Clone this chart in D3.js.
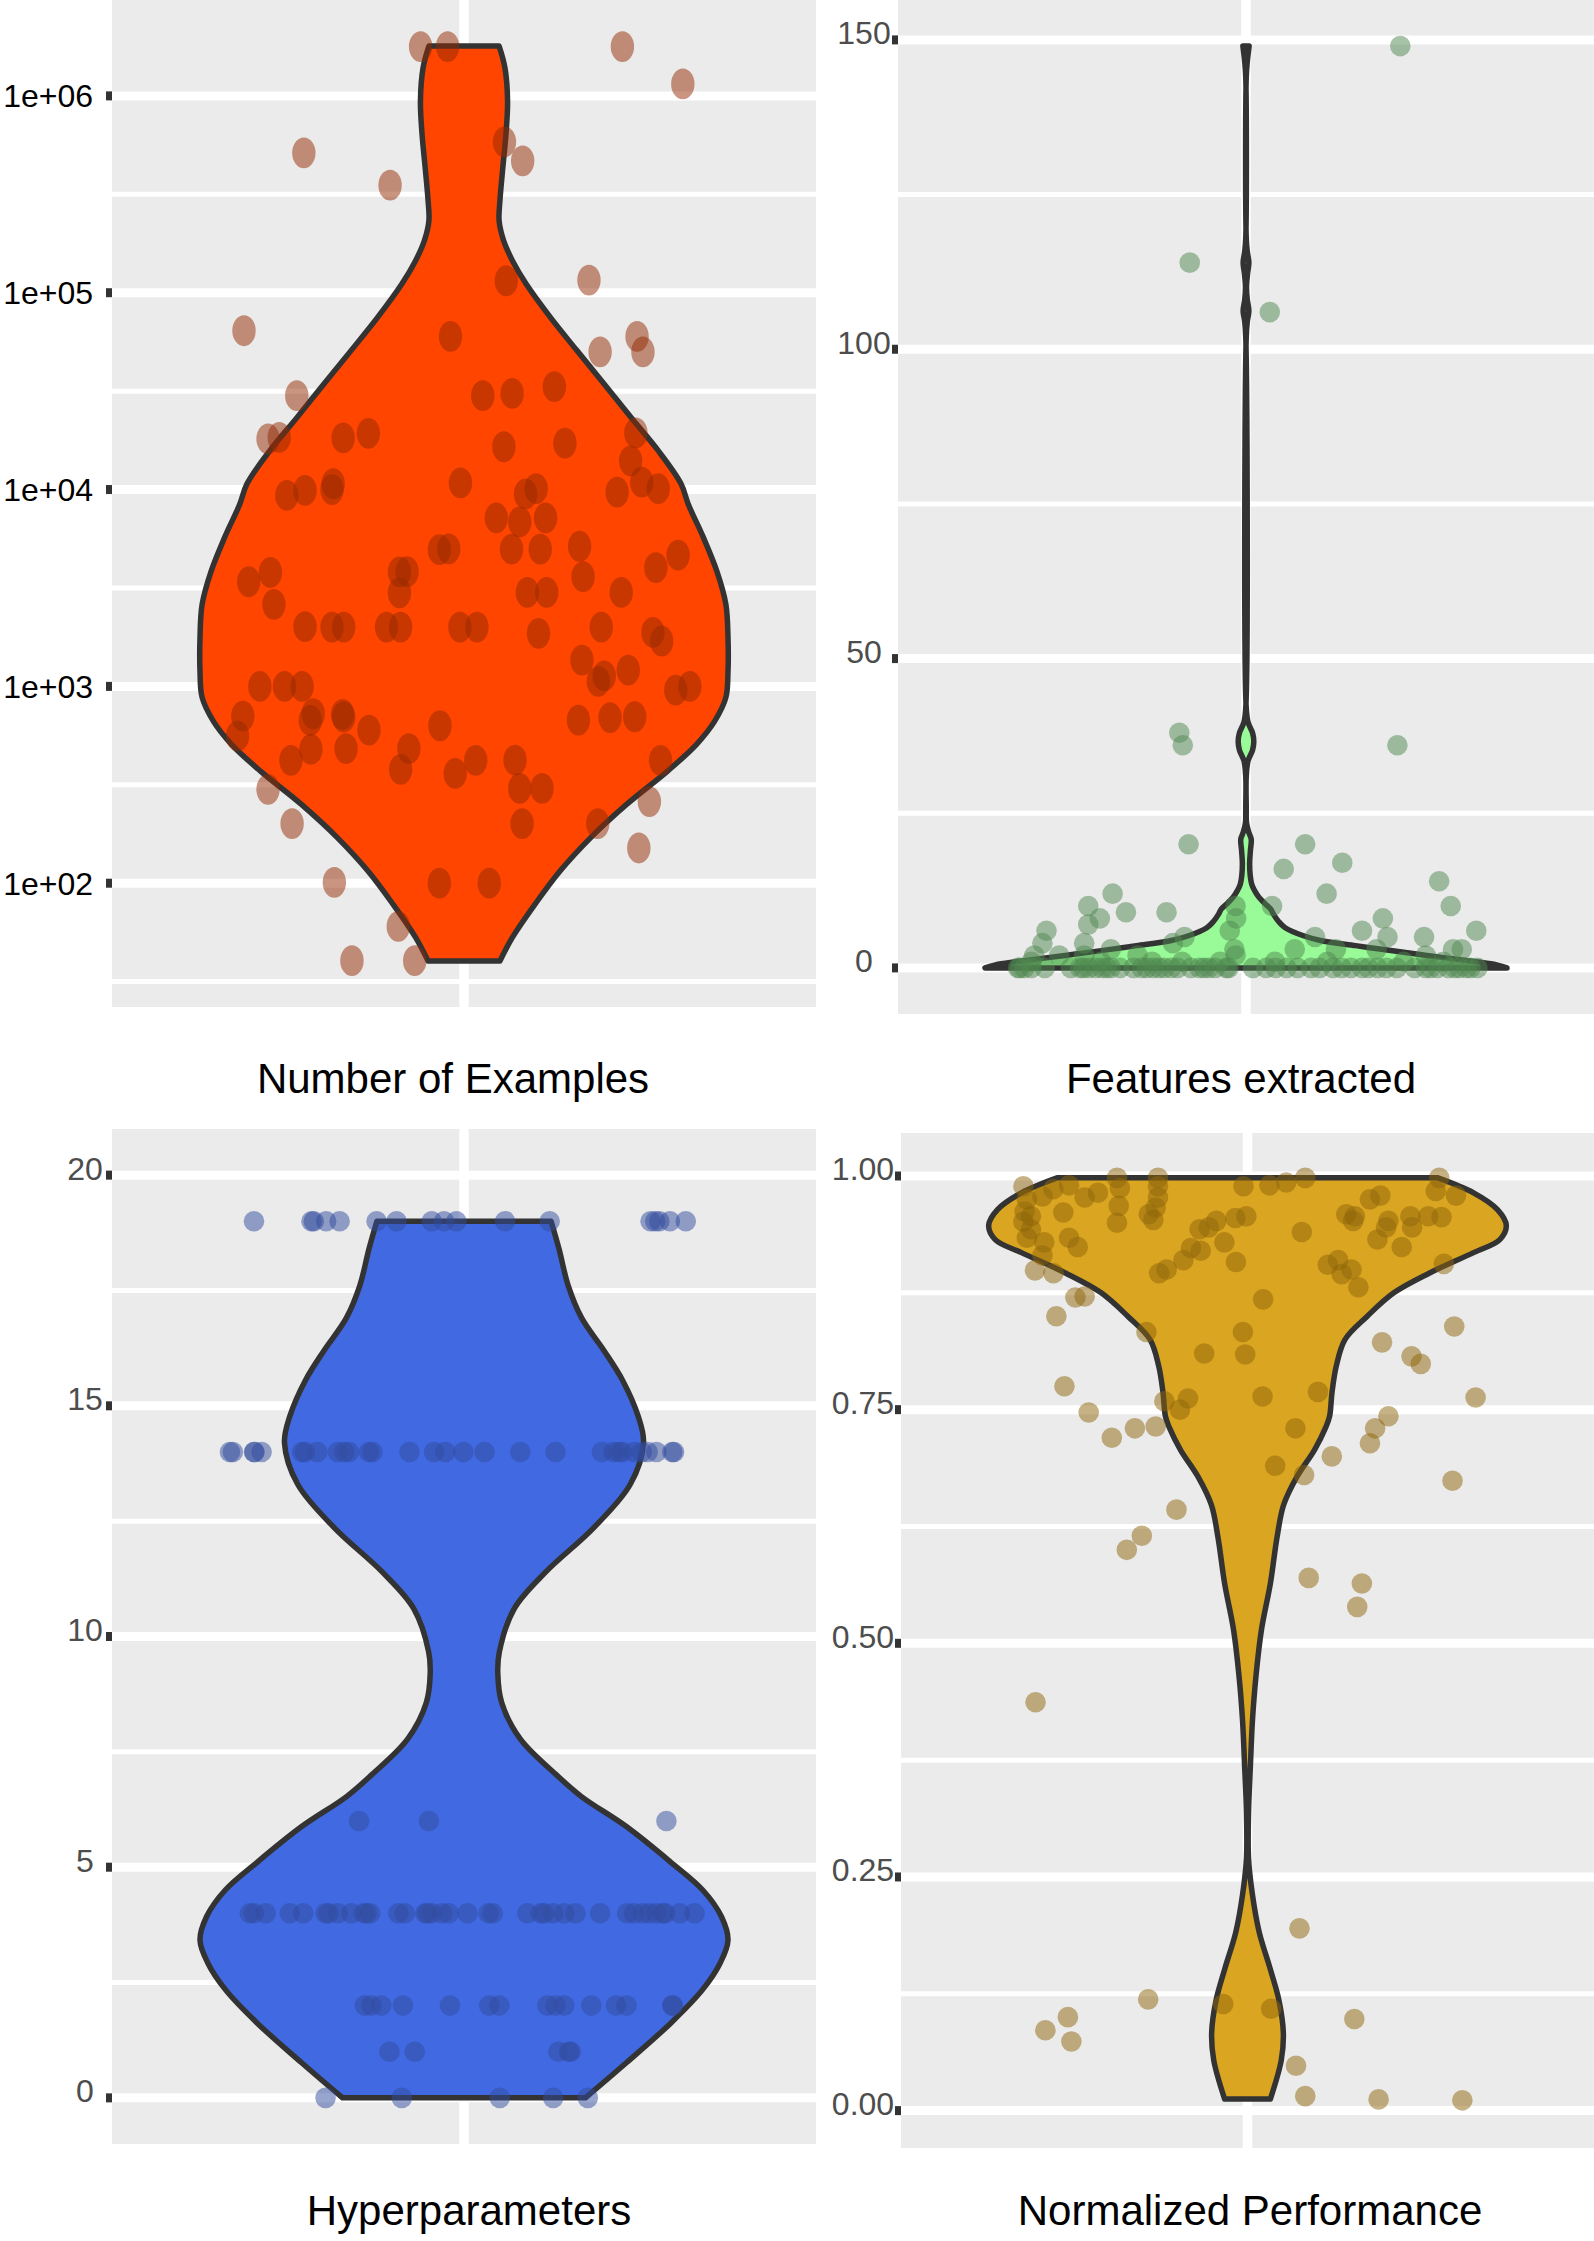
<!DOCTYPE html>
<html>
<head>
<meta charset="utf-8">
<script src="https://cdnjs.cloudflare.com/ajax/libs/d3/7.8.5/d3.min.js"></script>
<style>
  body { margin: 0; background: #fff; }
  svg { display: block; font-family: "Liberation Sans", Arial, sans-serif; }
</style>
</head>
<body>
<script>
// DATA
// points: [horizontal jitter (category units), value]
const examplesPoints = [
  [-0.074,1780000],[-0.028,1780000],[0.270,1780000],[0.373,1150000],[-0.273,514000],[-0.126,352000],
  [0.069,584000],[0.100,468000],[0.072,115000],[0.213,116000],[-0.375,64100],[-0.023,60000],
  [0.295,60000],[0.232,50100],[0.305,50000],[-0.285,30000],[0.032,30000],[0.082,30800],
  [0.154,33300],[-0.334,18100],[-0.315,18400],[-0.206,18300],[-0.163,19300],[0.068,16500],
  [0.172,17200],[0.293,19400],[0.284,14000],[-0.302,9330],[-0.271,9900],[-0.223,10700],
  [-0.225,10000],[-0.006,10800],[0.105,9500],[0.123,10100],[0.261,9700],[0.303,10900],
  [0.331,10100],[0.055,7180],[0.095,6850],[0.139,7180],[-0.042,4950],[-0.026,5000],
  [0.081,4980],[0.130,4980],[0.197,5150],[0.327,4010],[0.365,4640],[-0.367,3400],
  [-0.330,3790],[-0.110,3820],[-0.097,3830],[-0.110,2990],[0.108,3000],[0.141,3000],
  [0.203,3610],[0.268,3000],[-0.324,2610],[-0.271,2010],[-0.225,2000],[-0.205,2000],
  [-0.132,2000],[-0.108,2000],[-0.007,2000],[0.022,2000],[0.127,1860],[0.234,2000],
  [0.322,1880],[0.337,1700],[0.201,1360],[0.239,1130],[0.229,1060],[0.280,1210],
  [0.361,957],[0.385,1000],[-0.348,1000],[-0.306,1000],[-0.276,1000],[-0.377,706],
  [-0.386,560],[-0.257,726],[-0.262,671],[-0.207,721],[-0.205,699],[-0.162,600],
  [-0.041,631],[0.195,674],[0.249,694],[0.291,701],[-0.261,479],[-0.295,421],
  [-0.201,483],[-0.094,483],[-0.108,379],[-0.015,361],[0.020,421],[0.087,422],
  [0.095,303],[0.133,303],[0.335,421],[-0.334,300],[-0.293,201],[0.099,201],
  [0.228,201],[0.316,260],[0.298,151],[-0.221,101],[-0.042,100],[0.043,100],
  [-0.112,60.3],[-0.191,40.4],[-0.084,40.4]
];
// violin outline: [value, relative density]
const examplesDensity = [
  [40.2,0.136],[53.2,0.184],[78.2,0.269],[115,0.363],[171,0.481],[252,0.617],[371,0.771],
  [508,0.881],[664,0.949],[879,0.992],[1190,1.0],[1770,1.0],[2610,0.992],[3840,0.958],
  [5700,0.907],[8390,0.85],[10700,0.822],[15800,0.735],[23200,0.633],[34500,0.530],
  [50800,0.428],[74700,0.328],[111000,0.235],[145000,0.184],[184000,0.150],[232000,0.133],
  [293000,0.136],[431000,0.147],[641000,0.159],[944000,0.165],[1390000,0.155],[1790000,0.133]
];
const examplesTicks = [1e2, 1e3, 1e4, 1e5, 1e6];
const examplesTickLabels = ['1e+02', '1e+03', '1e+04', '1e+05', '1e+06'];

const featuresPoints = [
  [0.266,149],[-0.097,114],[0.041,106],[-0.115,38],[-0.109,36],[0.261,36],[-0.099,20],
  [0.102,20],[0.065,16],[0.166,17],[0.333,14],[0.139,12],[0.353,10],[0.397,6],[-0.230,12],
  [-0.207,9],[-0.137,9],[-0.272,10],[-0.252,8],[-0.272,7],[-0.344,6],[-0.351,4],[-0.365,2],
  [-0.322,2],[-0.279,4],[-0.233,3],[-0.279,2],[-0.106,5],[-0.126,4],[-0.018,10],[-0.017,8],
  [-0.028,6],[-0.020,3],[-0.018,2],[0.045,10],[0.084,3],[0.119,5],[0.155,3],[0.200,6],
  [0.236,8],[0.244,5],[0.225,3],[0.307,5],[0.310,2],[0.357,3],[0.372,3],[0.050,1],
  [-0.187,2],[-0.162,1],[-0.045,1],[0.272,1],[-0.37,1],[-0.25,1],[-0.11,1],[0.14,1],[0.34,1],
  [-0.393,0],[-0.382,0],[-0.347,0],[-0.302,0],[-0.286,0],[-0.271,0],[-0.259,0],[-0.248,0],
  [-0.233,0],[-0.217,0],[-0.194,0],[-0.171,0],[-0.160,0],[-0.141,0],[-0.129,0],[-0.118,0],
  [-0.095,0],[-0.072,0],[-0.064,0],[-0.053,0],[-0.034,0],[0.012,0],[0.035,0],[0.051,0],
  [0.089,0],[0.112,0],[0.127,0],[0.165,0],[0.181,0],[0.211,0],[0.227,0],[0.242,0],
  [0.291,0],[0.318,0],[0.330,0],[0.349,0],[0.368,0],[0.387,0],[0.399,0],
  [-0.39,0],[-0.37,0],[-0.28,0],[-0.24,0],[-0.18,0],[-0.15,0],[-0.08,0],[-0.03,0],
  [0.07,0],[0.15,0],[0.20,0],[0.26,0],[0.31,0],[0.36,0],[0.38,0]
];
const featuresDensity = [
  [0,1.0],[0.5,0.96],[1,0.88],[1.5,0.79],[2.2,0.66],[3,0.52],[3.6,0.42],[4.4,0.29],
  [5.2,0.22],[6.5,0.15],[7.5,0.125],[8.7,0.105],[9.5,0.095],[10.5,0.07],[11.4,0.05],
  [12.5,0.033],[13.5,0.022],[15,0.016],[17,0.014],[19,0.017],[20.8,0.02],[22,0.01],
  [23.5,0.002],[26,0.001],[31,0.001],[33.5,0.008],[35.2,0.025],[36.6,0.03],[38,0.025],
  [39.7,0.008],[42,0.001],[102,0.001],[104.5,0.005],[106.2,0.011],[108,0.005],[110,0.002],
  [112.2,0.006],[114,0.011],[115.8,0.005],[118,0.001],[144,0.001],[146.5,0.005],[149,0.012]
];
const featuresTicks = [0, 50, 100, 150];
const featuresTickLabels = ['0', '50', '100', '150'];

const hyperPoints = [
  [-0.358,19],[-0.260,19],[-0.256,19],[-0.235,19],[-0.212,19],[-0.149,19],[-0.115,19],
  [-0.055,19],[-0.034,19],[-0.013,19],[0.070,19],[0.146,19],[0.318,19],[0.326,19],
  [0.333,19],[0.351,19],[0.378,19],
  [-0.399,14],[-0.394,14],[-0.358,14],[-0.357,14],[-0.345,14],[-0.276,14],[-0.271,14],
  [-0.250,14],[-0.215,14],[-0.204,14],[-0.196,14],[-0.162,14],[-0.156,14],[-0.093,14],
  [-0.051,14],[-0.032,14],[-0.001,14],[0.035,14],[0.096,14],[0.156,14],[0.235,14],
  [0.255,14],[0.264,14],[0.270,14],[0.290,14],[0.303,14],[0.313,14],[0.328,14],
  [0.355,14],[0.358,14],
  [-0.179,6],[-0.060,6],[0.345,6],
  [-0.365,4],[-0.358,4],[-0.338,4],[-0.297,4],[-0.274,4],[-0.236,4],[-0.231,4],[-0.215,4],
  [-0.192,4],[-0.171,4],[-0.166,4],[-0.160,4],[-0.112,4],[-0.101,4],[-0.066,4],[-0.062,4],
  [-0.055,4],[-0.037,4],[-0.026,4],[0.006,4],[0.042,4],[0.049,4],[0.108,4],[0.131,4],
  [0.137,4],[0.152,4],[0.171,4],[0.190,4],[0.232,4],[0.278,4],[0.290,4],[0.305,4],
  [0.316,4],[0.328,4],[0.339,4],[0.343,4],[0.368,4],[0.393,4],
  [-0.169,2],[-0.158,2],[-0.141,2],[-0.104,2],[-0.024,2],[0.043,2],[0.060,2],[0.142,2],
  [0.156,2],[0.171,2],[0.217,2],[0.259,2],[0.277,2],[0.355,2],[0.356,2],
  [-0.127,1],[-0.084,1],[0.161,1],[0.179,1],[0.182,1],
  [-0.236,0],[-0.106,0],[0.061,0],[0.152,0],[0.211,0]
];
const hyperDensity = [
  [0,0.46],[0.76,0.615],[1.63,0.785],[2.34,0.903],[2.93,0.971],[3.42,1.0],[3.93,0.975],
  [4.5,0.905],[5.1,0.785],[5.88,0.615],[6.53,0.445],[6.99,0.352],[7.78,0.213],[8.56,0.143],
  [9.2,0.128],[9.67,0.134],[10.6,0.19],[11.4,0.31],[12.35,0.49],[13.3,0.63],[14.2,0.68],
  [14.77,0.66],[15.56,0.60],[16.2,0.53],[16.9,0.446],[17.6,0.395],[18.4,0.36],[19,0.33]
];
const hyperTicks = [0, 5, 10, 15, 20];
const hyperTickLabels = ['0', '5', '10', '15', '20'];

const perfPoints = [
  [-0.388,0.989],[-0.355,0.978],[-0.336,0.986],[-0.309,0.990],[-0.282,0.977],[-0.259,0.982],
  [-0.226,0.998],[-0.221,0.987],[-0.223,0.968],[-0.226,0.950],[-0.155,0.998],[-0.155,0.989],
  [-0.155,0.977],[-0.159,0.966],[-0.171,0.959],[-0.163,0.953],[-0.382,0.975],[-0.386,0.962],
  [-0.375,0.957],[-0.388,0.951],[-0.375,0.943],[-0.382,0.934],[-0.352,0.929],[-0.319,0.961],
  [-0.309,0.934],[-0.294,0.924],[-0.355,0.915],[-0.368,0.899],[-0.336,0.896],[-0.298,0.870],
  [-0.282,0.871],[-0.331,0.850],[-0.007,0.989],[0.038,0.990],[0.067,0.993],[0.100,0.998],
  [0.332,0.998],[0.326,0.984],[0.361,0.979],[0.212,0.975],[0.230,0.979],[0.171,0.959],
  [0.186,0.957],[0.183,0.952],[0.244,0.952],[0.282,0.957],[0.313,0.957],[0.336,0.956],
  [0.240,0.945],[0.285,0.945],[0.225,0.932],[0.267,0.924],[0.340,0.906],[0.094,0.940],
  [-0.083,0.943],[-0.067,0.945],[-0.054,0.952],[-0.021,0.955],[-0.002,0.957],[-0.040,0.929],
  [-0.098,0.923],[-0.081,0.920],[-0.111,0.910],[-0.140,0.900],[-0.153,0.896],[-0.020,0.908],
  [0.139,0.905],[0.157,0.910],[0.163,0.895],[0.180,0.900],[0.192,0.881],[0.027,0.868],
  [-0.175,0.833],[-0.008,0.833],[-0.075,0.810],[-0.004,0.809],[0.233,0.822],[0.358,0.839],
  [0.284,0.807],[0.300,0.799],[-0.317,0.775],[0.026,0.764],[0.122,0.769],[0.395,0.763],
  [-0.144,0.759],[-0.103,0.762],[-0.117,0.750],[0.244,0.743],[-0.275,0.747],[-0.235,0.720],
  [-0.195,0.730],[-0.159,0.732],[0.083,0.730],[0.212,0.714],[0.221,0.730],[0.146,0.700],
  [0.048,0.690],[0.098,0.680],[0.355,0.674],[-0.123,0.643],[-0.183,0.615],[-0.209,0.600],
  [0.106,0.570],[0.198,0.564],[0.190,0.539],[-0.367,0.437],[0.090,0.195],[-0.172,0.119],
  [-0.311,0.100],[-0.350,0.086],[-0.305,0.074],[-0.042,0.114],[0.041,0.109],[0.185,0.098],
  [0.084,0.048],[0.100,0.0155],[0.227,0.012],[0.372,0.011]
];
const perfDensity = [
  [0.0123,0.088],[0.054,0.130],[0.083,0.138],[0.118,0.121],[0.152,0.087],[0.191,0.045],
  [0.231,0.019],[0.27,0.004],[0.319,0.004],[0.368,0.011],[0.417,0.019],[0.466,0.033],
  [0.515,0.054],[0.564,0.088],[0.614,0.114],[0.648,0.139],[0.678,0.190],[0.707,0.258],
  [0.731,0.301],[0.743,0.316],[0.768,0.325],[0.797,0.342],[0.825,0.375],[0.850,0.461],
  [0.875,0.563],[0.896,0.699],[0.918,0.870],[0.932,0.971],[0.947,0.996],[0.964,0.962],
  [0.982,0.870],[0.998,0.733]
];
const perfTicks = [0, 0.25, 0.5, 0.75, 1];
const perfTickLabels = ['0.00', '0.25', '0.50', '0.75', '1.00'];

const titles = ['Number of Examples', 'Features extracted', 'Hyperparameters', 'Normalized Performance'];

// LAYOUT
const panels = [
  {
    points: examplesPoints, density: examplesDensity, ticks: examplesTicks, labels: examplesTickLabels,
    title: titles[0], log: true, domain: [23.5, 3.07e6],
    left: 112, right: 816, top: 0, bottom: 1007,
    labelX: 93, labelAnchor: 'end', labelDy: 11.5, labelColor: '#000',
    titleX: 453, titleY: 1093,
    fill: '#FF4500', dot: 'rgb(147,41,1)', rx: 11.7, ry: 15.4
  },
  {
    points: featuresPoints, density: featuresDensity, ticks: featuresTicks, labels: featuresTickLabels,
    title: titles[1], log: false, domain: [-7.45, 156.45],
    left: 898, right: 1594, top: 0, bottom: 1014,
    labelX: 864, labelAnchor: 'middle', labelDy: 4.5, labelColor: '#4d4d4d',
    titleX: 1241, titleY: 1093,
    fill: '#98FB98', dot: 'rgb(79,135,79)', rx: 10.3, ry: 10.3
  },
  {
    points: hyperPoints, density: hyperDensity, ticks: hyperTicks, labels: hyperTickLabels,
    title: titles[2], log: false, domain: [-1, 21],
    left: 112, right: 816, top: 1129, bottom: 2144,
    labelX: 85, labelAnchor: 'middle', labelDy: 4.5, labelColor: '#4d4d4d',
    titleX: 469, titleY: 2225,
    fill: '#4169E1', dot: 'rgb(49,75,157)', rx: 10.3, ry: 10.3
  },
  {
    points: perfPoints, density: perfDensity, ticks: perfTicks, labels: perfTickLabels,
    title: titles[3], log: false, domain: [-0.04, 1.046],
    left: 901, right: 1594, top: 1133, bottom: 2148,
    labelX: 863, labelAnchor: 'middle', labelDy: 4.5, labelColor: '#4d4d4d',
    titleX: 1250, titleY: 2225,
    fill: '#DAA520', dot: 'rgb(141,101,9)', rx: 10.3, ry: 10.3
  }
];

const halfWidth = 0.45;

const svg = d3
  .select('body')
  .append('svg')
  .attr('width', 1594)
  .attr('height', 2241);

for (const p of panels) {
  const x = d3.scaleLinear().domain([0.4, 1.6]).range([p.left, p.right]);
  const y = (p.log ? d3.scaleLog() : d3.scaleLinear())
    .domain(p.domain)
    .range([p.bottom, p.top]);

  const g = svg.append('g');

  // PANEL BACKGROUND
  g.append('rect')
    .attr('x', p.left)
    .attr('y', p.top)
    .attr('width', p.right - p.left)
    .attr('height', p.bottom - p.top)
    .attr('fill', '#EBEBEB');

  // GRID: minor lines halfway between majors
  const majorY = p.ticks.map((t) => y(t));
  const step = majorY[1] - majorY[0];
  const minorY = [majorY[0] - step / 2];
  for (let i = 0; i < majorY.length; i++) {
    minorY.push(majorY[i] + step / 2);
  }
  minorY
    .filter((v) => v > p.top && v < p.bottom)
    .forEach((v) => {
      g.append('line')
        .attr('x1', p.left).attr('x2', p.right)
        .attr('y1', v).attr('y2', v)
        .attr('stroke', '#fff')
        .attr('stroke-width', 5);
    });

  majorY.forEach((v) => {
    g.append('line')
      .attr('x1', p.left).attr('x2', p.right)
      .attr('y1', v).attr('y2', v)
      .attr('stroke', '#fff')
      .attr('stroke-width', 9);
  });

  g.append('line')
    .attr('x1', x(1)).attr('x2', x(1))
    .attr('y1', p.top).attr('y2', p.bottom)
    .attr('stroke', '#fff')
    .attr('stroke-width', 9.5);

  // VIOLIN
  const area = d3
    .area()
    .y((d) => y(d[0]))
    .x0((d) => x(1 - halfWidth * d[1]))
    .x1((d) => x(1 + halfWidth * d[1]))
    .curve(d3.curveCatmullRom.alpha(0.5));

  const outline = p.density.slice().sort((a, b) => a[0] - b[0]);

  g.append('path')
    .attr('d', area(outline))
    .attr('fill', p.fill)
    .attr('stroke', '#333333')
    .attr('stroke-width', 5.5)
    .attr('stroke-linejoin', 'round');

  // JITTERED POINTS
  g.selectAll('ellipse.pt')
    .data(p.points)
    .join('ellipse')
    .attr('class', 'pt')
    .attr('cx', (d) => x(1 + d[0]))
    .attr('cy', (d) => y(d[1]))
    .attr('rx', p.rx)
    .attr('ry', p.ry)
    .attr('fill', p.dot)
    .attr('fill-opacity', 0.5);

  // AXIS: ticks and labels
  p.ticks.forEach((t, i) => {
    const ty = y(t);
    g.append('rect')
      .attr('x', p.left - 6)
      .attr('y', ty - 4.5)
      .attr('width', 6)
      .attr('height', 9)
      .attr('fill', '#333333');
    g.append('text')
      .attr('x', p.labelX)
      .attr('y', ty + p.labelDy)
      .attr('text-anchor', p.labelAnchor)
      .attr('font-size', 32)
      .attr('fill', p.labelColor)
      .text(p.labels[i]);
  });

  // TITLE
  g.append('text')
    .attr('x', p.titleX)
    .attr('y', p.titleY)
    .attr('text-anchor', 'middle')
    .attr('font-size', 42)
    .attr('fill', '#000')
    .text(p.title);
}
</script>
</body>
</html>
